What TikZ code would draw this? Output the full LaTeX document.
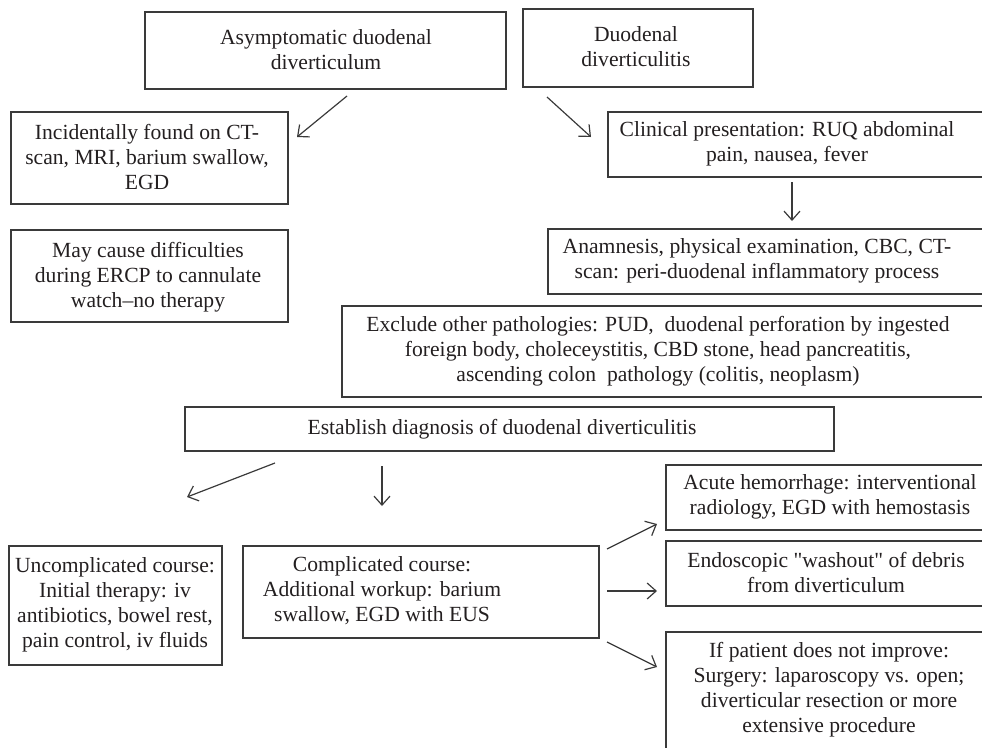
\documentclass[tikz,border=0pt]{standalone}
\usepackage{fontspec}
\setmainfont{Liberation Serif}[Ligatures=TeXOff]
\usetikzlibrary{arrows.meta}
\definecolor{linegray}{HTML}{3A3A3A}
\definecolor{inkgray}{HTML}{231F20}
\tikzset{
  box/.style={draw=linegray, line width=1.3pt, inner sep=0pt},
  txt/.style={align=center, inner sep=0pt, text=inkgray, font=\fontsize{21.6}{25}\selectfont},
  arr/.style={draw=linegray, line width=1.2pt, -{Straight Barb[length=9pt, width=16pt]}}
}
\begin{document}
\begin{tikzpicture}[x=1pt, y=-1pt]
\useasboundingbox (0,0) rectangle (982,747);
\clip (0,0) rectangle (982,747);
% boxes
\node[box, minimum width=361pt, minimum height=77pt] (asym) at (325.5,50.5) {};
\node[box, minimum width=230pt, minimum height=78pt] (diverti) at (638,48) {};
\node[box, minimum width=277pt, minimum height=92pt] (incid) at (149.5,158) {};
\node[box, minimum width=277pt, minimum height=92pt] (ercp) at (149.5,276) {};
\node[box, minimum width=392pt, minimum height=65pt] (clin) at (804,144.5) {};
\node[box, minimum width=452pt, minimum height=65pt] (work) at (774,261.5) {};
\node[box, minimum width=658pt, minimum height=91pt] (excl) at (671,351.5) {};
\node[box, minimum width=649pt, minimum height=44pt] (diag) at (509.5,429) {};
\node[box, minimum width=213pt, minimum height=119pt] (uncomp) at (115.5,605.5) {};
\node[box, minimum width=356pt, minimum height=92pt] (comp) at (421,592) {};
\node[box, minimum width=334pt, minimum height=65pt] (bleed) at (833,497.5) {};
\node[box, minimum width=334pt, minimum height=65pt] (wash) at (833,573.5) {};
\node[box, minimum width=334pt, minimum height=133pt] (surg) at (833,698.5) {};
% texts
\node[txt] (asym-t) at (326,50) {Asymptomatic duodenal\\diverticulum};
\node[txt] (diverti-t) at (636,47) {Duodenal\\diverticulitis};
\node[txt] (incid-t) at (147,157) {Incidentally found on CT-\\scan, MRI, barium swallow,\\EGD};
\node[txt] (ercp-t) at (148,277) {May cause difficulties\\during ERCP to cannulate\\watch–no therapy};
\node[txt] (clin-t) at (787,144) {Clinical presentation: RUQ abdominal\\pain, nausea, fever};
\node[txt] (work-t) at (757,261) {Anamnesis, physical examination, CBC, CT-\\scan: peri-duodenal inflammatory process};
\node[txt] (excl-t) at (658,351) {Exclude other pathologies: PUD,~ duodenal perforation by ingested\\foreign body, choleceystitis, CBD stone, head pancreatitis,\\ascending colon~ pathology (colitis, neoplasm)};
\node[txt] (diag-t) at (502,429) {Establish diagnosis of duodenal diverticulitis};
\node[txt] (uncomp-t) at (115,605) {Uncomplicated course:\\Initial therapy: iv\\antibiotics, bowel rest,\\pain control, iv fluids};
\node[txt] (comp-t) at (382,591) {Complicated course:\\Additional workup: barium\\swallow, EGD with EUS};
\node[txt] (bleed-t) at (830,497) {Acute hemorrhage: interventional\\radiology, EGD with hemostasis};
\node[txt] (wash-t) at (826,572) {Endoscopic "washout" of debris\\from diverticulum};
\node[txt] (surg-t) at (829,690) {If patient does not improve:\\Surgery: laparoscopy vs. open;\\diverticular resection or more\\extensive procedure};
% arrow ends
\coordinate (a1s) at (347,96);  \coordinate (a1e) at (297,137);
\coordinate (a2s) at (547,97);  \coordinate (a2e) at (591,137);
\coordinate (a3s) at (792,182); \coordinate (a3e) at (792,221);
\coordinate (a4s) at (275,463); \coordinate (a4e) at (187,497);
\coordinate (a5s) at (382,466); \coordinate (a5e) at (382,506);
\coordinate (a6s) at (607,549); \coordinate (a6e) at (657,524);
\coordinate (a7s) at (607,591); \coordinate (a7e) at (657,591);
\coordinate (a8s) at (607,642); \coordinate (a8e) at (657,667);
\foreach \n in {1,...,8} \draw[arr] (a\n s) -- (a\n e);
\end{tikzpicture}
\end{document}
